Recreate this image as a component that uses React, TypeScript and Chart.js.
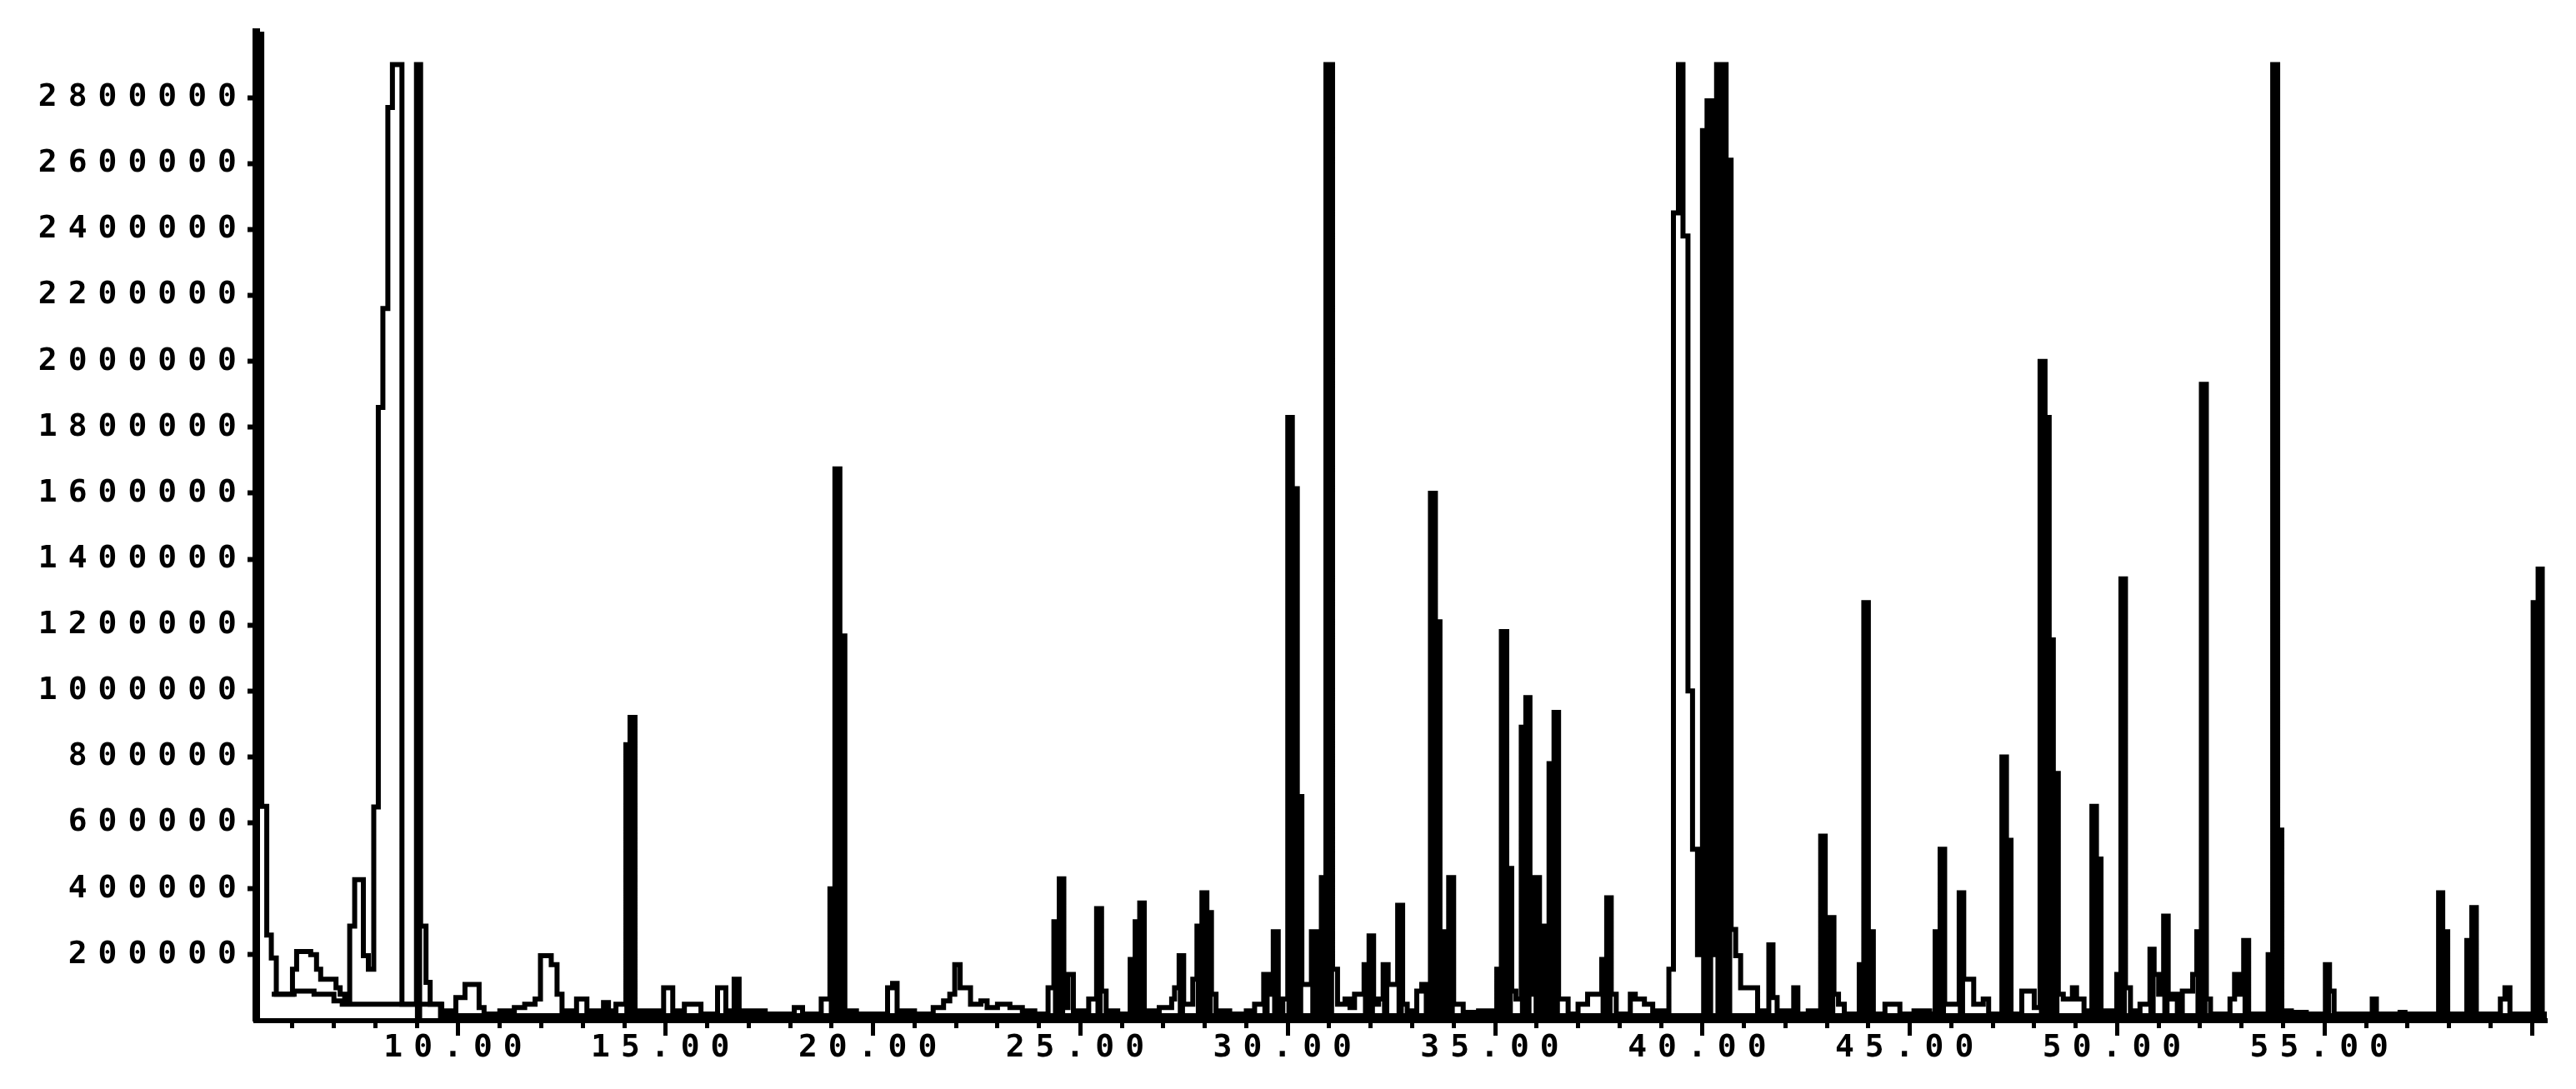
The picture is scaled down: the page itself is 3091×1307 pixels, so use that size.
import React, { useEffect, useRef } from 'react';
import { Chart, registerables } from 'chart.js';

Chart.register(...registerables);

// Retention time (min) / abundance, main trace, split in windows
const rtA1 = [5.117, 5.26, 5.38, 5.49, 5.61, 6.0, 6.1, 6.44, 6.58, 6.68, 7.05, 7.15, 7.26, 7.38, 7.5, 7.71, 7.83, 7.96, 8.07, 8.18, 8.3, 8.41, 8.64, 8.99, 9.09, 9.22, 9.32, 9.6, 9.94, 10.16, 10.5, 10.62, 11.0, 11.35, 11.6, 11.85, 11.98, 12.24, 12.38, 12.5, 12.85, 13.1, 13.5, 13.62, 13.8, 14.04, 14.14, 14.26, 14.95, 15.17, 15.45, 15.85, 16.25, 16.45, 16.65, 16.77, 17.4, 18.1, 18.3, 18.75, 18.96, 19.08, 19.2, 19.32, 19.6];
const abA1 = [3000000, 650000, 260000, 190000, 80000, 156000, 210000, 200000, 156000, 126000, 100000, 80000, 55000, 287000, 428000, 197000, 156000, 648000, 1860000, 2160000, 2770000, 2900000, 50000, 2900000, 287000, 116000, 50000, 30000, 70000, 110000, 40000, 20000, 30000, 40000, 50000, 66000, 197000, 170000, 80000, 30000, 66000, 30000, 55000, 30000, 50000, 837000, 920000, 30000, 100000, 30000, 50000, 20000, 100000, 30000, 126000, 30000, 20000, 40000, 20000, 66000, 400000, 1674000, 1167000, 30000, 20000];

const rtA2 = [20.35, 20.47, 20.58, 21.0, 21.45, 21.7, 21.85, 21.97, 22.1, 22.35, 22.6, 22.75, 23.0, 23.3, 23.6, 23.9, 24.22, 24.36, 24.49, 24.6, 24.7, 24.83, 25.2, 25.39, 25.51, 25.62, 25.9, 26.2, 26.32, 26.43, 26.54, 26.9, 27.2, 27.27, 27.38, 27.49, 27.71, 27.81, 27.93, 28.05, 28.16, 28.27, 28.6, 29.0, 29.2, 29.42, 29.53, 29.65, 29.77, 29.88, 30.0, 30.11, 30.23, 30.34, 30.57, 30.69, 30.81, 30.92, 31.08, 31.2, 31.38, 31.5, 31.61, 31.84, 31.96, 32.07, 32.19, 32.3, 32.42, 32.65, 32.77, 32.88, 33.0, 33.11, 33.23, 33.34, 33.44, 33.56, 33.67, 33.79, 33.88, 34.0, 34.23, 34.6, 34.92];
const abA2 = [100000, 113000, 30000, 20000, 40000, 60000, 80000, 170000, 100000, 50000, 60000, 40000, 50000, 40000, 30000, 20000, 100000, 300000, 430000, 40000, 140000, 30000, 66000, 340000, 90000, 30000, 20000, 186000, 300000, 357000, 30000, 40000, 66000, 100000, 197000, 50000, 126000, 287000, 388000, 328000, 80000, 30000, 20000, 30000, 50000, 140000, 80000, 270000, 20000, 66000, 1830000, 1614000, 680000, 110000, 270000, 200000, 434000, 2900000, 156000, 50000, 66000, 40000, 80000, 170000, 257000, 50000, 66000, 170000, 110000, 350000, 50000, 30000, 20000, 90000, 110000, 25000, 1600000, 1210000, 30000, 270000, 434000, 50000, 25000, 30000, 30000];

const rtA3 = [35.04, 35.15, 35.28, 35.4, 35.5, 35.63, 35.74, 35.84, 35.96, 36.07, 36.19, 36.3, 36.42, 36.53, 36.76, 37.0, 37.23, 37.57, 37.69, 37.8, 37.92, 38.26, 38.38, 38.6, 38.8, 39.07, 39.19, 39.3, 39.42, 39.53, 39.65, 39.76, 39.88, 40.0, 40.11, 40.23, 40.34, 40.57, 40.69, 40.8, 40.92, 41.33, 41.6, 41.7, 41.8, 42.2, 42.3, 42.55, 42.85, 42.96, 43.06, 43.17, 43.28, 43.42, 43.78, 43.89, 44.0, 44.12, 44.4, 44.76, 45.1, 45.48, 45.61, 45.73, 45.84, 46.05, 46.19, 46.3, 46.54, 46.77, 46.9, 47.22, 47.33, 47.44, 47.7, 48.0, 48.14, 48.26, 48.36, 48.46, 48.58, 48.7, 48.92, 49.02, 49.2, 49.39, 49.5, 49.61, 49.99];
const abA3 = [156000, 1180000, 462000, 90000, 66000, 890000, 980000, 80000, 434000, 287000, 20000, 780000, 935000, 66000, 20000, 50000, 80000, 186000, 373000, 80000, 20000, 80000, 66000, 50000, 30000, 20000, 156000, 2450000, 2900000, 2380000, 1000000, 520000, 200000, 2700000, 2790000, 200000, 2900000, 2610000, 277000, 197000, 100000, 30000, 230000, 70000, 30000, 100000, 20000, 30000, 560000, 200000, 313000, 80000, 50000, 20000, 170000, 1268000, 270000, 20000, 50000, 20000, 30000, 20000, 270000, 520000, 50000, 50000, 388000, 126000, 50000, 66000, 20000, 800000, 547000, 20000, 90000, 40000, 2000000, 1830000, 1155000, 750000, 80000, 66000, 100000, 66000, 30000, 650000, 490000, 30000, 140000];

const rtA4 = [50.09, 50.2, 50.32, 50.55, 50.79, 50.89, 51.0, 51.12, 51.23, 51.34, 51.45, 51.57, 51.82, 51.92, 52.03, 52.15, 52.25, 52.72, 52.83, 52.94, 53.05, 53.17, 53.64, 53.75, 53.87, 53.97, 54.2, 54.56, 55.02, 55.12, 55.23, 56.15, 56.25, 56.82, 56.94, 57.75, 57.85, 57.97, 58.43, 58.55, 58.66, 59.24, 59.35, 59.47, 60.03, 60.15, 60.25, 60.36];
const abA4 = [1340000, 100000, 30000, 50000, 217000, 140000, 80000, 317000, 66000, 80000, 20000, 90000, 140000, 270000, 1930000, 66000, 20000, 66000, 140000, 80000, 243000, 20000, 200000, 2900000, 578000, 30000, 25000, 20000, 170000, 90000, 20000, 66000, 20000, 25000, 20000, 388000, 270000, 20000, 243000, 343000, 20000, 66000, 100000, 20000, 1268000, 1370000, 20000, 20000];

// second (lower) trace
const rtB = [5.5, 6.04, 6.52, 7.0, 7.2, 9.57, 60.36];
const abB = [80000, 90000, 80000, 60000, 50000, 15000, 15000];

// peaks that print as solid black columns (retention time of column, height)
const solidRT = [9.04, 14.09, 14.2, 19.02, 19.14, 19.26, 24.425, 24.545, 25.45, 26.26, 26.375, 26.485, 27.435, 27.87, 27.99, 28.105, 29.475, 29.71, 30.055, 30.17, 30.285, 30.63, 30.75, 30.865, 30.96, 31.03, 31.9, 32.015, 32.36, 32.71, 33.5, 33.615, 33.835, 33.94, 35.095, 35.215, 35.34, 35.685, 35.79, 36.015, 36.13, 36.36, 36.475, 37.63, 37.745, 40.055, 40.17, 40.4, 40.51, 40.63, 42.905, 43.01, 43.115, 43.835, 43.945, 44.06, 45.67, 45.785, 46.245, 47.275, 47.385, 48.2, 48.31, 48.41, 48.52, 49.445, 49.555, 50.04, 50.145, 50.84, 51.175, 51.975, 52.09, 53.11, 53.695, 53.81, 53.92, 55.07, 57.8, 57.91, 58.49, 58.605, 60.09, 60.2];
const solidHeight = [2900000, 837000, 920000, 400000, 1674000, 1167000, 300000, 430000, 340000, 186000, 300000, 357000, 197000, 287000, 388000, 328000, 140000, 270000, 1830000, 1614000, 680000, 270000, 200000, 434000, 2900000, 2900000, 170000, 257000, 170000, 350000, 1600000, 1210000, 270000, 434000, 156000, 1180000, 462000, 890000, 980000, 434000, 287000, 780000, 935000, 186000, 373000, 2700000, 2790000, 2900000, 2900000, 2610000, 560000, 200000, 313000, 170000, 1268000, 270000, 270000, 520000, 388000, 800000, 547000, 2000000, 1830000, 1155000, 750000, 650000, 490000, 140000, 1340000, 217000, 317000, 270000, 1930000, 243000, 200000, 2900000, 578000, 170000, 388000, 270000, 243000, 343000, 1268000, 1370000];

// axis ticks
const yTickValues = [200000, 400000, 600000, 800000, 1000000, 1200000, 1400000, 1600000, 1800000, 2000000, 2200000, 2400000, 2600000, 2800000];
const xMajorTicks = [10, 15, 20, 25, 30, 35, 40, 45, 50, 55, 60];
const xLabelTicks = [10, 15, 20, 25, 30, 35, 40, 45, 50, 55];
const xMinorTicks = [6, 7, 8, 9, 11, 12, 13, 14, 16, 17, 18, 19, 21, 22, 23, 24, 26, 27, 28, 29, 31, 32, 33, 34, 36, 37, 38, 39, 41, 42, 43, 44, 46, 47, 48, 49, 51, 52, 53, 54, 56, 57, 58, 59];

const toPoints = (xs: number[], ys: number[]) => xs.map((x, i) => ({ x, y: ys[i] }));

const FONT = { family: 'DejaVu Sans Mono', size: 38, weight: 'bold' as const };

const spacingPlugin = {
  id: 'letterSpacingPlugin',
  beforeDraw(chart: any) {
    chart.ctx.letterSpacing = '13px';
  },
  afterDraw(chart: any) {
    chart.ctx.letterSpacing = '0px';
  },
};

export default function App() {
  const ref = useRef<HTMLCanvasElement | null>(null);

  useEffect(() => {
    if (!ref.current) return;
    const traceA = [
      ...toPoints(rtA1, abA1),
      ...toPoints(rtA2, abA2),
      ...toPoints(rtA3, abA3),
      ...toPoints(rtA4, abA4),
    ];
    const traceB = toPoints(rtB, abB);
    const solid = toPoints(solidRT, solidHeight);
    const allX = [...xMinorTicks, ...xMajorTicks].sort((a, b) => a - b);

    const chart = new Chart(ref.current, {
      type: 'line',
      data: {
        datasets: [
          {
            type: 'bar',
            data: solid,
            backgroundColor: '#000',
            borderWidth: 0,
            barThickness: 8,
            grouped: false,
          },
          {
            type: 'line',
            data: traceB,
            borderColor: '#000',
            borderWidth: 6,
            stepped: true,
            pointRadius: 0,
            fill: false,
          },
          {
            type: 'line',
            data: traceA,
            borderColor: '#000',
            borderWidth: 6,
            stepped: true,
            pointRadius: 0,
            fill: false,
          },
        ],
      },
      options: {
        animation: false,
        responsive: false,
        devicePixelRatio: 1,
        layout: { padding: { top: 38, right: 35, bottom: 0, left: 0 } },
        plugins: { legend: { display: false }, tooltip: { enabled: false } },
        elements: {
          point: { radius: 0 },
          line: { borderJoinStyle: 'miter', borderCapStyle: 'butt', tension: 0 },
        },
        scales: {
          x: {
            type: 'linear',
            offset: false,
            min: 5.117,
            max: 60.36,
            afterBuildTicks: (scale: any) => {
              scale.ticks = allX.map((v) => ({ value: v }));
            },
            afterFit: (scale: any) => {
              scale.height = 82;
            },
            border: { display: true, color: '#000', width: 6 },
            grid: {
              offset: false,
              drawOnChartArea: false,
              drawTicks: true,
              tickLength: 18,
              tickWidth: 5,
              tickColor: '#000',
              tickBorderDash: (ctx: any) =>
                ctx.tick && xMajorTicks.includes(ctx.tick.value) ? [] : [6, 60],
            },
            ticks: {
              autoSkip: false,
              maxRotation: 0,
              minRotation: 0,
              padding: 0,
              color: '#000',
              font: { ...FONT, lineHeight: 0.8 },
              callback: (value: any) =>
                xLabelTicks.includes(Number(value)) ? Number(value).toFixed(2) : '',
            },
          },
          y: {
            type: 'linear',
            min: 0,
            max: 3000000,
            afterBuildTicks: (scale: any) => {
              scale.ticks = yTickValues.map((v) => ({ value: v }));
            },
            afterFit: (scale: any) => {
              scale.width = 307;
            },
            border: { display: true, color: '#000', width: 9 },
            grid: {
              drawOnChartArea: false,
              drawTicks: true,
              tickLength: 10,
              tickWidth: 6,
              tickColor: '#000',
            },
            ticks: {
              autoSkip: false,
              padding: 0,
              color: '#000',
              font: FONT,
              callback: (value: any) => String(value),
            },
          },
        },
      },
      plugins: [spacingPlugin],
    } as any);

    return () => chart.destroy();
  }, []);

  return (
    <div style={{ position: 'absolute', left: 0, top: 0, width: 3091, height: 1307, background: '#fff' }}>
      <canvas ref={ref} width={3091} height={1307} style={{ display: 'block' }} />
    </div>
  );
}
